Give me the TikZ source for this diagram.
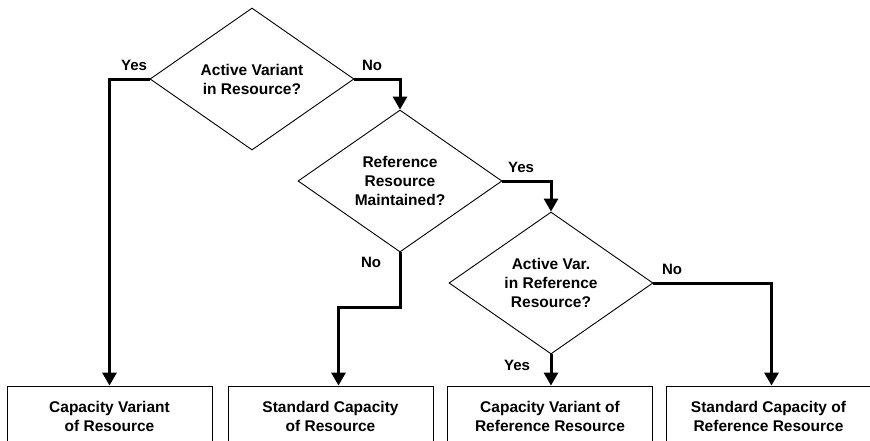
\documentclass[tikz,border=0pt]{standalone}
\usepackage{fontspec}
\setmainfont{Liberation Sans}
\usetikzlibrary{shapes.geometric,arrows.meta}
\tikzset{
  decision/.style={diamond, draw, line width=0.9pt, shape aspect=1.44,
    minimum width=204pt, minimum height=142pt, inner sep=0pt, align=center,
    font=\fontsize{15.5}{19}\selectfont\bfseries},
  outcome/.style={rectangle, draw, line width=0.9pt, minimum width=205pt,
    minimum height=60pt, inner sep=0pt, align=center,
    font=\fontsize{15.5}{19}\selectfont\bfseries},
  flow/.style={line width=3pt, -{Triangle[length=13pt,width=14pt]}},
  answer/.style={inner sep=0pt, font=\fontsize{15}{18}\selectfont\bfseries}
}
\begin{document}
\begin{tikzpicture}[x=1pt,y=-1pt]
  \useasboundingbox (0,0) rectangle (870,440);
  % decisions
  \node[decision] (activeRes) at (252,79) {Active Variant\\in Resource?};
  \node[decision] (refMaint) at (400,181) {Reference\\Resource\\Maintained?};
  \node[decision] (activeRef) at (551,283) {Active Var.\\in Reference\\Resource?};
  % outcomes (bottom row runs off the page)
  \node[outcome] (capVarRes) at (109.5,416) {Capacity Variant\\of Resource};
  \node[outcome] (stdCapRes) at (330.5,416) {Standard Capacity\\of Resource};
  \node[outcome] (capVarRef) at (550,416) {Capacity Variant of\\Reference Resource};
  \node[outcome] (stdCapRef) at (768.5,416) {Standard Capacity of\\Reference Resource};
  % yes / no labels
  \node[answer] (yesRes) at (134,65) {Yes};
  \node[answer] (noRes) at (372,65) {No};
  \node[answer] (yesMaint) at (521,167) {Yes};
  \node[answer] (noMaint) at (371,262) {No};
  \node[answer] (noRef) at (672,269) {No};
  \node[answer] (yesRef) at (517,365) {Yes};
  % branches
  \draw[flow] (activeRes.west) -| (capVarRes.north);
  \draw[flow] (activeRes.east) -| (refMaint.north);
  \draw[flow] (refMaint.east) -| (activeRef.north);
  \draw[flow] (refMaint.south) -- ++(0,55) -| ([xshift=8pt]stdCapRes.north);
  \draw[flow] (activeRef.south) -- (activeRef.south |- capVarRef.north);
  \draw[flow] (activeRef.east) -| ([xshift=3pt]stdCapRef.north);
\end{tikzpicture}
\end{document}
